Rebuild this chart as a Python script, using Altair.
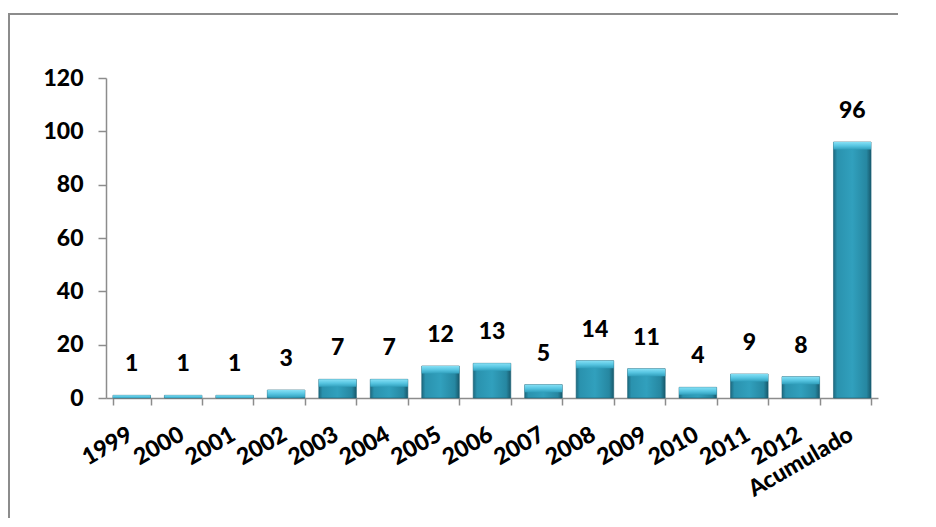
import altair as alt
import pandas as pd

categories = ["1999", "2000", "2001", "2002", "2003", "2004", "2005", "2006",
              "2007", "2008", "2009", "2010", "2011", "2012", "Acumulado"]
values = [1, 1, 1, 3, 7, 7, 12, 13, 5, 14, 11, 4, 9, 8, 96]
y_ticks = [0, 20, 40, 60, 80, 100, 120]

df = pd.DataFrame({"cat": categories, "value": values})

FONT = "Lato"
AXIS_COLOR = "#8c8c8c"
FS = 23

x_enc = alt.X("cat:N", sort=categories, title=None,
              scale=alt.Scale(paddingInner=0.27, paddingOuter=0.135),
              axis=alt.Axis(labelAngle=-30, labelAlign="right", labelBaseline="top",
                            labelFontSize=FS, labelFont=FONT, labelFontWeight=900,
                            labelColor="#000000", labelPadding=18, labelOffset=-7,
                            tickBand="extent", tickSize=7, tickColor=AXIS_COLOR,
                            domainColor=AXIS_COLOR, domainWidth=1.5, tickWidth=1.5,
                            grid=False))
y_scale = alt.Scale(domain=[0, 120], nice=False)
y_axis = alt.Axis(values=y_ticks, labelFontSize=FS, labelFont=FONT, labelFontWeight=900,
                  labelColor="#000000", labelPadding=15, tickSize=8, tickColor=AXIS_COLOR,
                  domainColor=AXIS_COLOR, domainWidth=1.5, tickWidth=1.5, grid=False)

body_grad = alt.Gradient(
    gradient="linear", x1=0, x2=1, y1=0, y2=0,
    stops=[alt.GradientStop(offset=0, color="#1d6a80"),
           alt.GradientStop(offset=0.1, color="#2a92ae"),
           alt.GradientStop(offset=0.5, color="#31a0bd"),
           alt.GradientStop(offset=0.88, color="#2687a1"),
           alt.GradientStop(offset=1, color="#185a6d")])
bevel_grad = alt.Gradient(
    gradient="linear", x1=0, x2=0, y1=0, y2=1,
    stops=[alt.GradientStop(offset=0, color="#86e0f5"),
           alt.GradientStop(offset=0.5, color="#58c6e2"),
           alt.GradientStop(offset=1, color="#31a0bd")])

bars = alt.Chart(df).mark_bar(fill=body_grad, stroke="#1a5f73", strokeWidth=0.6).encode(
    x=x_enc,
    y=alt.Y("value:Q", scale=y_scale, axis=y_axis, title=None),
)

bevel = alt.Chart(df).transform_calculate(
    bot="max(datum.value - 2.8, 0)"
).mark_bar(fill=bevel_grad).encode(
    x=alt.X("cat:N", sort=categories),
    y=alt.Y("value:Q", scale=y_scale),
    y2="bot:Q",
)

labels = alt.Chart(df).mark_text(
    font=FONT, fontSize=FS, fontWeight=900, color="#000000",
    baseline="middle", dy=-31
).encode(
    x=alt.X("cat:N", sort=categories),
    y=alt.Y("value:Q", scale=y_scale),
    text="value:Q",
)

one = pd.DataFrame({"a": [0]})
border_top = alt.Chart(one).mark_rule(color="#8c8c8c", strokeWidth=2).encode(
    x=alt.value(-97), x2=alt.value(1200), y=alt.value(-64)
)
border_left = alt.Chart(one).mark_rule(color="#8c8c8c", strokeWidth=2).encode(
    x=alt.value(-97), y=alt.value(-65), y2=alt.value(900)
)

chart = alt.layer(border_top, border_left, bars, bevel, labels).properties(
    width=772, height=320,
    background="white",
    autosize=alt.AutoSizeParams(type="none"),
    padding={"left": 98, "top": 70, "right": 20, "bottom": 120},
).configure_view(strokeWidth=0, stroke="transparent")

chart.save("out.html", embed_options={"renderer": "svg", "actions": False})
